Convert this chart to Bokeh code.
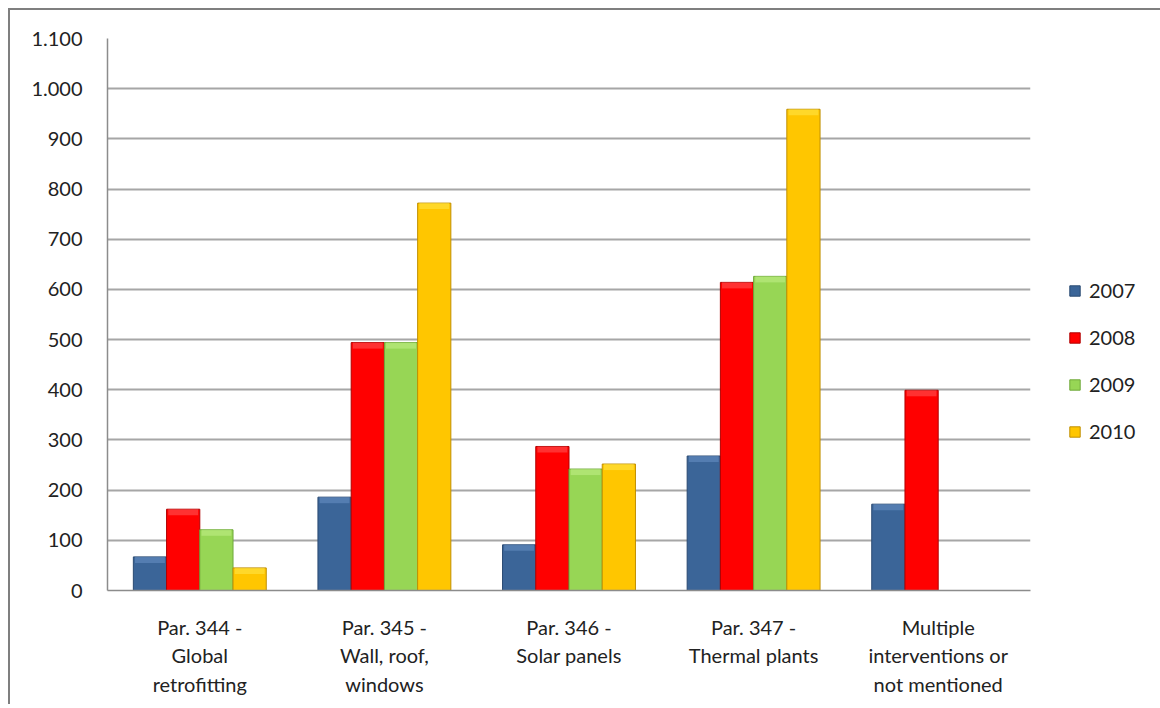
from bokeh.plotting import figure
from bokeh.models import (ColumnDataSource, FactorRange, Legend, LegendItem,
                          FixedTicker, Range1d, Div)
from bokeh.layouts import column
from bokeh.transform import dodge
from bokeh.embed import file_html
from bokeh.resources import INLINE

categories = ["Par. 344 -\nGlobal\nretrofitting",
              "Par. 345 -\nWall, roof,\nwindows",
              "Par. 346 -\nSolar panels",
              "Par. 347 -\nThermal plants",
              "Multiple\ninterventions or\nnot mentioned"]
years = ["2007", "2008", "2009", "2010"]
v2007 = [67, 186, 91, 268, 172]
v2008 = [162, 494, 287, 614, 399]
v2009 = [121, 494, 242, 626, 0]
v2010 = [45, 772, 252, 959, 0]
y_ticks = [0, 100, 200, 300, 400, 500, 600, 700, 800, 900, 1000, 1100]
y_tick_labels = ["0", "100", "200", "300", "400", "500", "600", "700",
                 "800", "900", "1.000", "1.100"]

colors = ["#3B6598", "#FF0000", "#97D655", "#FFC600"]
edges = ["#2A4A72", "#B00000", "#6FA83A", "#C08F00"]
highlights = ["#6A92C6", "#FF5A5A", "#C2F08A", "#FFE84A"]

FONT = "Lato"
BEVEL = 12

series = [v2007, v2008, v2009, v2010]
data = dict(cat=categories)
for yr, vals in zip(years, series):
    data["y" + yr] = vals
    data["b" + yr] = [max(v - BEVEL, 0) if v > 0 else 0 for v in vals]
src = ColumnDataSource(data)

p = figure(x_range=FactorRange(*categories), y_range=Range1d(0, 1100),
           frame_width=923, frame_height=552, output_backend="svg",
           toolbar_location=None, min_border_left=97, min_border_top=28,
           min_border_bottom=114, min_border_right=122)
p.margin = (0, 0, 0, 2)
p.styles = {"box-shadow": "-2px 0px 0px 0px #7f7f7f"}
p.outline_line_color = None
p.background_fill_color = "white"
p.border_fill_color = "white"

bw = 0.18
offsets = [-0.27, -0.09, 0.09, 0.27]
items = []
for yr, off, c, e, h in zip(years, offsets, colors, edges, highlights):
    r = p.vbar(x=dodge("cat", off, range=p.x_range), top="y" + yr, width=bw,
               source=src, fill_color=c, line_color=e, line_width=1)
    p.vbar(x=dodge("cat", off, range=p.x_range), top="y" + yr,
           bottom="b" + yr, width=bw * 0.9, source=src, fill_color=h,
           fill_alpha=0.55, line_color=None)
    items.append(LegendItem(label=yr, renderers=[r]))

legend = Legend(items=items, location=(38, 147), padding=0, margin=0,
                border_line_color=None, background_fill_alpha=0,
                glyph_width=13, glyph_height=13, label_height=20,
                spacing=23, label_text_font=FONT,
                label_text_font_size="20px", label_text_color="#222222",
                label_standoff=8)
p.add_layout(legend, "right")

p.yaxis.ticker = FixedTicker(ticks=y_ticks)
p.yaxis.major_label_overrides = {t: l for t, l in zip(y_ticks, y_tick_labels)}
p.yaxis.major_label_text_font = FONT
p.yaxis.major_label_text_font_size = "20px"
p.yaxis.major_label_text_color = "#222222"
p.yaxis.major_tick_out = 0
p.yaxis.major_tick_in = 0
p.yaxis.major_label_standoff = 25
p.yaxis.major_tick_line_color = None
p.yaxis.minor_tick_line_color = None
p.yaxis.axis_line_color = "#8c8c8c"
p.yaxis.axis_line_width = 1.5

p.xaxis.major_label_text_font = FONT
p.xaxis.major_label_text_font_size = "20px"
p.xaxis.major_label_text_color = "#222222"
p.xaxis.major_label_text_line_height = 1.2
p.xaxis.major_tick_out = 0
p.xaxis.major_tick_in = 0
p.xaxis.major_label_standoff = 24
p.xaxis.major_tick_line_color = None
p.xaxis.axis_line_color = "#8c8c8c"
p.xaxis.axis_line_width = 1.5
p.x_range.range_padding = 0
p.x_range.group_padding = 0

p.xgrid.grid_line_color = None
p.ygrid.grid_line_color = "#a6a6a6"
p.ygrid.grid_line_width = 2

top_rule = Div(text="", width=1152, height=2, margin=(3, 0, 0, 0),
               styles={"background-color": "#7f7f7f"})
layout = column(top_rule, p, spacing=0, margin=0,
                styles={"padding-left": "8px", "padding-top": "5px"})

open("out.html", "w").write(file_html(layout, INLINE))
